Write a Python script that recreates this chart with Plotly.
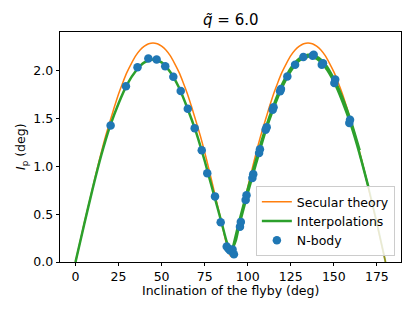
import plotly.graph_objects as go

# Secular theory (2.5 deg steps)
sec_x = [0, 2.5, 5, 7.5, 10, 12.5, 15, 17.5, 20, 22.5, 25, 27.5, 30, 32.5, 35, 37.5, 40, 42.5, 45,
         47.5, 50, 52.5, 55, 57.5, 60, 62.5, 65, 67.5, 70, 72.5, 75, 77.5, 80, 82.5, 85, 87.5, 90,
         92.5, 95, 97.5, 100, 102.5, 105, 107.5, 110, 112.5, 115, 117.5, 120, 122.5, 125, 127.5, 130,
         132.5, 135, 137.5, 140, 142.5, 145, 147.5, 150, 152.5, 155, 157.5, 160, 162.5, 165, 167.5,
         170, 172.5, 175, 177.5, 180]
sec_y = [0.00, 0.20, 0.40, 0.59, 0.78, 0.97, 1.15, 1.32, 1.47, 1.62, 1.76, 1.88, 1.99, 2.08, 2.16, 2.22, 2.26, 2.285, 2.294,
         2.285, 2.26, 2.22, 2.16, 2.08, 1.99, 1.88, 1.76, 1.62, 1.47, 1.32, 1.15, 0.97, 0.78, 0.59, 0.40, 0.20, 0.06,
         0.20, 0.40, 0.59, 0.78, 0.97, 1.15, 1.32, 1.47, 1.62, 1.76, 1.88, 1.99, 2.08, 2.16, 2.22, 2.26,
         2.285, 2.294, 2.285, 2.26, 2.22, 2.16, 2.08, 1.99, 1.88, 1.76, 1.62, 1.47, 1.32, 1.15, 0.97,
         0.78, 0.59, 0.40, 0.20, 0.00]

# Interpolations (left branch, right branches)
int_left_x = [0, 5, 10, 15, 20, 25, 30, 35, 40, 45, 50, 55, 60, 65, 70, 75, 80, 85, 88, 90.5]
int_left_y = [0.00, 0.39, 0.77, 1.12, 1.42, 1.66, 1.86, 2.00, 2.09, 2.12, 2.09, 1.99, 1.83, 1.61, 1.36, 1.06, 0.73, 0.40, 0.20, 0.11]
int_right_x = [90.5, 93, 95, 100, 105, 110, 115, 120, 125, 130, 135, 140, 145, 150, 155, 160, 165, 170]
int_right_y = [0.11, 0.22, 0.38, 0.72, 1.04, 1.35, 1.61, 1.83, 2.00, 2.11, 2.15, 2.13, 2.04, 1.89, 1.68, 1.43, 1.13, 0.79]
int_right2_x = [91, 95, 100, 105, 110, 115, 120, 125, 130, 135, 140, 145, 150, 155, 160, 165]
int_right2_y = [0.12, 0.42, 0.76, 1.08, 1.38, 1.64, 1.86, 2.03, 2.13, 2.17, 2.15, 2.07, 1.92, 1.72, 1.47, 1.17]
int_tail_x = [165, 170, 175, 180]
int_tail_y = [1.13, 0.79, 0.41, 0.00]

# N-body points
nb_x = [20.4, 29.3, 36.0, 42.3, 47.1, 52.1, 56.8, 61.1, 65.2, 69.2, 73.3, 76.5, 81.0, 84.3, 87.8, 88.8, 89.8,
        91.2, 92.0, 95.5, 96.0, 98.8, 99.3, 102.7, 103.2, 106.6, 107.1, 110.4, 111.0, 114.5, 115.0, 118.8,
        119.3, 123.0, 127.5, 132.3, 137.7, 138.3, 143.0, 143.7, 150.3, 150.8, 159.0, 159.4]
nb_y = [1.43, 1.84, 2.04, 2.13, 2.12, 2.05, 1.94, 1.79, 1.605, 1.40, 1.17, 0.93, 0.687, 0.415, 0.163, 0.14, 0.12,
        0.13, 0.08, 0.37, 0.42, 0.65, 0.70, 0.88, 0.92, 1.14, 1.18, 1.385, 1.41, 1.595, 1.62, 1.787,
        1.81, 1.943, 2.066, 2.147, 2.16, 2.17, 2.066, 2.08, 1.874, 1.91, 1.455, 1.49]

title_text = "<i>q\u0303</i> = 6.0"
xlabel_text = "Inclination of the flyby (deg)"
ylabel_text = "<i>I</i><sub>p</sub> (deg)"

ORANGE = "#ff7f0e"
GREEN = "#2ca02c"
BLUE = "#1f77b4"
FONT = "DejaVu Sans"

W, H = 415, 311
L, R, T, B = 60, 14, 32, 49

fig = go.Figure()
fig.add_trace(go.Scatter(x=sec_x, y=sec_y, mode="lines", name="Secular theory",
                         line=dict(color=ORANGE, width=1.5, shape="spline", smoothing=0.5)))
fig.add_trace(go.Scatter(x=int_left_x, y=int_left_y, mode="lines", name="Interpolations",
                         legendgroup="int", line=dict(color=GREEN, width=2.5, shape="spline", smoothing=0.6)))
fig.add_trace(go.Scatter(x=int_right_x, y=int_right_y, mode="lines", name="Interpolations",
                         legendgroup="int", showlegend=False,
                         line=dict(color=GREEN, width=2.5, shape="spline", smoothing=0.6)))
fig.add_trace(go.Scatter(x=int_right2_x, y=int_right2_y, mode="lines", name="Interpolations",
                         legendgroup="int", showlegend=False,
                         line=dict(color=GREEN, width=2.5, shape="spline", smoothing=0.6)))
fig.add_trace(go.Scatter(x=int_tail_x, y=int_tail_y, mode="lines", name="Interpolations",
                         legendgroup="int", showlegend=False, opacity=0.5,
                         line=dict(color=GREEN, width=2.0, shape="spline", smoothing=0.6)))
fig.add_trace(go.Scatter(x=nb_x, y=nb_y, mode="markers", name="N-body",
                         marker=dict(color=BLUE, size=8.5, line=dict(width=0))))

axis_common = dict(showgrid=False, zeroline=False, showline=True, linecolor="black", linewidth=0.8,
                   mirror=True, ticks="outside", ticklen=3.5, tickwidth=0.8, tickcolor="black",
                   automargin=False,
                   tickfont=dict(family=FONT, size=12.5, color="black"))

fig.update_layout(
    width=W, height=H,
    margin=dict(l=L, r=R, t=T, b=B, autoexpand=False),
    paper_bgcolor="white", plot_bgcolor="white",
    font=dict(family=FONT, size=12.5, color="black"),
    xaxis=dict(range=[-9, 189], tickvals=[0, 25, 50, 75, 100, 125, 150, 175], **axis_common),
    yaxis=dict(range=[0, 2.408], tickvals=[0, 0.5, 1.0, 1.5, 2.0], tickformat=".1f", **axis_common),
    legend=dict(x=0.982, xanchor="right", y=0.026, yanchor="bottom",
                bgcolor="rgba(255,255,255,0.8)", bordercolor="#cccccc", borderwidth=1,
                font=dict(family=FONT, size=12.5, color="black"), tracegroupgap=0,
                itemwidth=30),
    showlegend=True,
    annotations=[
        dict(text=title_text, xref="paper", yref="paper", x=0.5, y=1 + 12 / (H - T - B),
             xanchor="center", yanchor="middle", showarrow=False,
             font=dict(family=FONT, size=15, color="black")),
        dict(text=xlabel_text, xref="paper", yref="paper", x=0.5, y=-28 / (H - T - B),
             xanchor="center", yanchor="middle", showarrow=False,
             font=dict(family=FONT, size=12.5, color="black")),
        dict(text=ylabel_text, xref="paper", yref="paper", x=-(L - 21) / (W - L - R), y=0.5,
             xanchor="center", yanchor="middle", showarrow=False, textangle=-90,
             font=dict(family=FONT, size=12.5, color="black")),
    ],
)

fig.write_html("out.html", config={"displayModeBar": False},
               post_script="document.body.style.margin='0';")
